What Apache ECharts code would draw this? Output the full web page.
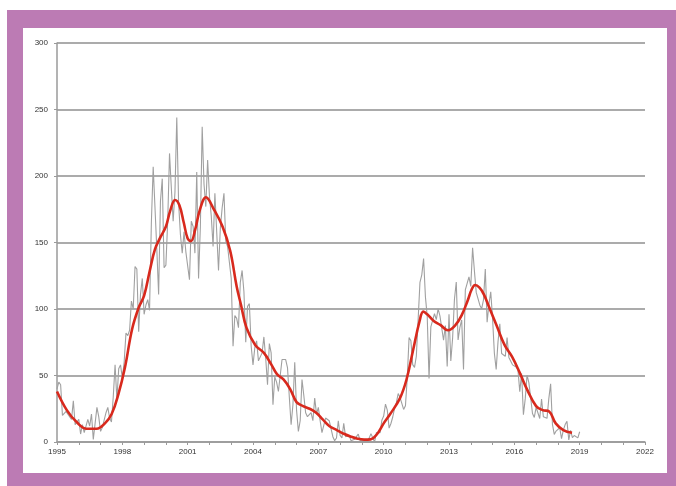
<!DOCTYPE html>
<html>
<head>
<meta charset="utf-8">
<script src="https://cdn.jsdelivr.net/npm/echarts@6/dist/echarts.min.js"></script>
<style>
html,body{margin:0;padding:0;background:#fff;}
#c{width:676px;height:486px;}
</style>
</head>
<body>
<div id="c"></div>
<script>
// Monthly sunspot number, starting January 1995
const startYear = 1995;
const monthly = [
  40, 45, 43, 20, 21, 23, 21, 21, 17, 31, 13, 15,
  17, 6, 13, 7, 8, 17, 12, 21, 2, 1, 26, 19,
  8, 11, 12, 22, 26, 18, 15, 34, 58, 32, 55, 58,
  48, 60, 82, 80, 84, 106, 100, 132, 130, 83, 111, 123,
  96, 103, 107, 99, 165, 207, 176, 145, 111, 181, 198, 131,
  133, 166, 217, 191, 166, 188, 244, 180, 156, 142, 158, 143,
  143, 122, 166, 162, 142, 203, 123, 162, 237, 194, 177, 212,
  185, 170, 147, 187, 187, 129, 161, 176, 187, 151, 147, 135,
  123, 72, 95, 93, 86, 120, 129, 113, 75, 102, 104, 72,
  58, 71, 76, 61, 64, 67, 79, 63, 43, 74, 67, 28,
  49, 45, 38, 38, 62, 61, 62, 56, 34, 13, 28, 60,
  24, 8, 16, 47, 35, 22, 19, 20, 22, 16, 33, 21,
  26, 16, 7, 6, 18, 19, 16, 10, 4, 1, 3, 16,
  5, 3, 14, 4, 4, 5, 1, 1, 2, 4, 6, 1,
  1.3, 1.2, 0.6, 1.2, 2.9, 6.3, 5.5, 0.0, 7.1, 7.7, 6.9, 16.3,
  19.5, 28.5, 24.0, 10.4, 13.9, 18.8, 25.2, 29.6, 36.4, 33.6, 34.4, 24.5,
  27.3, 48.3, 78.6, 76.1, 58.2, 56.1, 64.5, 65.8, 120.1, 125.7, 138, 109.3,
  94.4, 47.8, 86.6, 85.9, 96.5, 92.0, 100.1, 94.8, 93.7, 76.5, 87.6, 56.8,
  96.1, 60.9, 78.3, 107.3, 120.2, 76.7, 86.2, 91.8, 54.5, 114.4, 113.9, 124.2,
  117.0, 146.1, 128.7, 112.5, 112.5, 102.9, 100.2, 106.9, 130.0, 90.0, 103.6, 112.9,
  93.0, 66.7, 54.5, 75.3, 88.8, 66.5, 65.8, 64.4, 78.6, 63.6, 62.2, 58.0,
  57.0, 56.4, 54.1, 37.9, 51.5, 20.5, 32.4, 50.2, 44.6, 33.4, 21.4, 18.5,
  26.1, 26.4, 17.7, 32.3, 18.9, 19.2, 17.8, 32.6, 43.7, 13.2, 5.7, 8.2,
  6.8, 10.7, 2.5, 8.9, 13.1, 15.6, 1.6, 8.7, 3.3, 4.9, 4.9, 3.1,
  7.7
];

// Smoothed sunspot number (time in years, value)
const smoothTimes = [
  1995.0, 1995.45, 1995.9, 1996.36, 1996.82, 1997.2, 1997.51, 1997.82, 1998.12, 1998.45,
  1998.75, 1999.0, 1999.25, 1999.5, 1999.75, 2000.0, 2000.2, 2000.42, 2000.62, 2000.82,
  2001.0, 2001.15, 2001.35, 2001.55, 2001.84, 2002.2, 2002.6, 2002.95, 2003.25, 2003.45, 2003.7,
  2004.1, 2004.5, 2004.85, 2005.1, 2005.4, 2005.7, 2006.0, 2006.3, 2006.6, 2006.9,
  2007.2, 2007.5, 2007.85, 2008.2, 2008.5, 2008.8, 2009.1, 2009.4, 2009.7, 2010.0,
  2010.3, 2010.75, 2011.05, 2011.35, 2011.65, 2011.82, 2012.0, 2012.3, 2012.6, 2012.95,
  2013.3, 2013.6, 2013.85, 2014.05, 2014.2, 2014.4, 2014.6, 2014.9, 2015.2, 2015.55,
  2015.9, 2016.25, 2016.6, 2017.0, 2017.3, 2017.6, 2017.9, 2018.25, 2018.65
];
const smoothValues = [
  38, 24, 15, 10, 10, 14, 21, 36, 56, 85,
  101, 110, 128, 145, 154, 162, 174, 182, 178, 165,
  153, 151, 160, 174, 184, 175, 162, 144, 117, 103, 86,
  73, 67, 58, 51, 47, 40, 30, 27, 25, 22,
  17, 12, 9, 6, 4, 2.5, 1.8, 2, 6, 14,
  21, 33, 47, 69, 91, 98, 96, 91, 88, 84,
  88, 96, 106, 115, 118, 116, 111, 99, 87, 73,
  64, 52, 39, 27, 24, 23, 14, 9, 7
];

const yTicks = [0, 50, 100, 150, 200, 250, 300];
const xMin = 1995, xMax = 2022, xStep = 3;

const grayData = monthly.map((v, i) => [startYear + i / 12, v]);
const redData = smoothTimes.map((t, i) => [t, smoothValues[i]]);

const chart = echarts.init(document.getElementById('c'), null, {renderer: 'canvas'});
chart.setOption({
  animation: false,
  backgroundColor: '#ffffff',
  graphic: [
    {type: 'rect', z: -10, shape: {x: 7, y: 10, width: 669, height: 476}, style: {fill: '#bc7bb4'}},
    {type: 'rect', z: -9, shape: {x: 23, y: 28, width: 644, height: 445}, style: {fill: '#ffffff'}}
  ],
  grid: {left: 57, right: 31, top: 43, bottom: 44, containLabel: false},
  xAxis: {
    type: 'value', min: xMin, max: xMax, interval: xStep,
    axisLine: {show: true, onZero: false, lineStyle: {color: '#9a9a9a', width: 1.5}},
    axisTick: {show: true, length: 3, lineStyle: {color: '#9a9a9a'}},
    minorTick: {show: true, splitNumber: 3, length: 3, lineStyle: {color: '#9a9a9a'}},
    splitLine: {show: false},
    axisLabel: {color: '#333', fontSize: 8, fontFamily: 'Liberation Sans, Arial', margin: 6,
      formatter: v => String(Math.round(v))}
  },
  yAxis: {
    type: 'value', min: yTicks[0], max: yTicks[yTicks.length - 1], interval: 50,
    axisLine: {show: true, lineStyle: {color: '#9a9a9a', width: 1.5}},
    axisTick: {show: true, length: 3, lineStyle: {color: '#9a9a9a'}},
    splitLine: {show: true, lineStyle: {color: '#8f8f8f', width: 1.5}},
    axisLabel: {color: '#333', fontSize: 8, fontFamily: 'Liberation Sans, Arial', margin: 9}
  },
  series: [
    {
      type: 'line', data: grayData, showSymbol: false, symbol: 'none',
      lineStyle: {color: '#a0a0a0', width: 1.1}, z: 2
    },
    {
      type: 'line', data: redData, showSymbol: false, symbol: 'none', smooth: 0.4,
      lineStyle: {color: '#d8291d', width: 2.6}, z: 3
    }
  ]
});
</script>
</body>
</html>
